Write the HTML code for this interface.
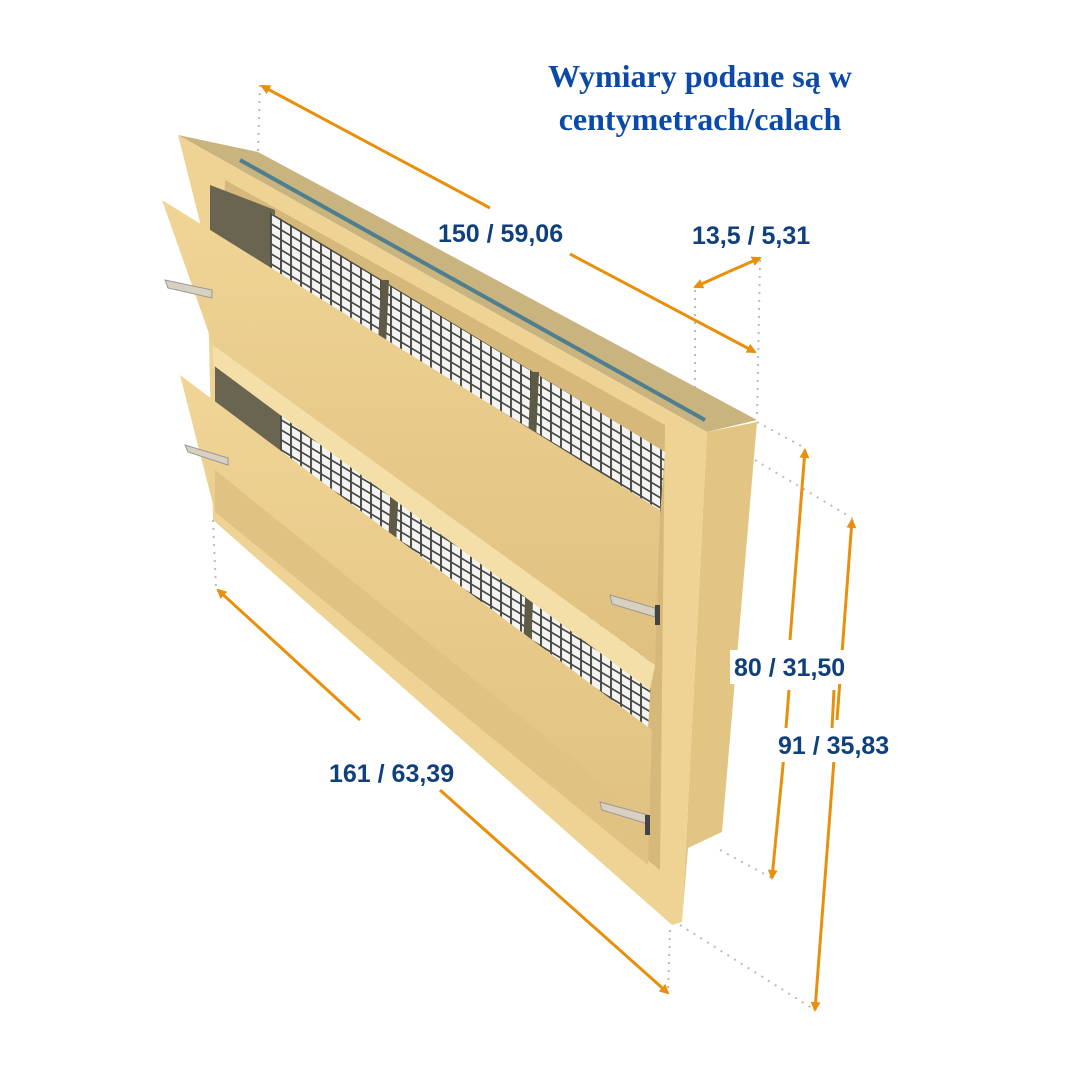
<!DOCTYPE html>
<html><head><meta charset="utf-8"><style>
html,body{margin:0;padding:0;background:#fff;}
svg{display:block;}
.lbl{font-family:"Liberation Sans",sans-serif;font-weight:bold;font-size:25px;fill:#0f3f7c;}
.ttl{font-family:"Liberation Serif",serif;font-weight:bold;font-size:32px;fill:#0b4aa8;}
</style></head><body>
<svg width="1080" height="1080" viewBox="0 0 1080 1080" xmlns="http://www.w3.org/2000/svg">
<defs>
<pattern id="mesh" width="10" height="10" patternUnits="userSpaceOnUse" patternTransform="skewY(31)">
<rect width="10" height="10" fill="#f4f4f4"/>
<rect width="10" height="2" fill="#4a4a44"/>
<rect width="2" height="10" fill="#4a4a44"/>
</pattern>
<linearGradient id="plate" x1="0" y1="0" x2="0" y2="1">
<stop offset="0" stop-color="#f0d596"/><stop offset="1" stop-color="#dfc07f"/>
</linearGradient>
<marker id="ah" markerWidth="10" markerHeight="10" refX="8" refY="5" orient="auto" markerUnits="userSpaceOnUse">
<path d="M0,0 L10,5 L0,10 z" fill="#e8900c"/>
</marker>
</defs>
<g stroke="#bbb" stroke-width="2" stroke-dasharray="2,6" fill="none">
<line x1="260" y1="85" x2="258" y2="152"/>
<line x1="695" y1="290" x2="695" y2="425"/>
<line x1="760" y1="260" x2="757" y2="420"/>
<line x1="757" y1="422" x2="805" y2="448"/>
<line x1="755" y1="460" x2="852" y2="518"/>
<line x1="720" y1="850" x2="772" y2="878"/>
<line x1="680" y1="925" x2="815" y2="1010"/>
<line x1="213" y1="520" x2="216" y2="588"/>
<line x1="670" y1="930" x2="668" y2="993"/>
</g>
<polygon points="178,135 258,152 757,420 707,432" fill="#c9b37f"/>
<line x1="240" y1="160" x2="705" y2="420" stroke="#4f7f8f" stroke-width="4"/>
<polygon points="707,432 757,422 722,832 688,848 682,922" fill="#e2c583"/>
<polygon points="178,135 707,432 682,922 672,925 213,520 207,250" fill="#efd394"/>
<polygon points="225,180 665,425 660,870 215,510" fill="#d6b97a"/>
<polygon points="210,185 275,210 275,300 210,300" fill="#6a6550"/>
<polygon points="215,360 285,400 285,480 215,470" fill="#6a6550"/>
<polygon points="270,212 665,452 660,515 270,280" fill="url(#mesh)"/>
<polygon points="280,405 652,660 648,730 280,470" fill="url(#mesh)"/>
<g stroke="#5d5a45" stroke-width="8">
<line x1="385" y1="280" x2="382" y2="345"/><line x1="535" y1="372" x2="532" y2="440"/>
<line x1="395" y1="483" x2="392" y2="545"/><line x1="530" y1="576" x2="527" y2="650"/>
</g>
<polygon points="162,200 660,510 655,665 213,345" fill="url(#plate)"/>
<polygon points="213,345 655,665 650,690 213,365" fill="#f5dfa8"/>
<polygon points="180,375 652,730 648,865 215,512" fill="url(#plate)"/>
<polygon points="215,470 648,820 648,865 215,512" fill="#e0c282"/>
<g fill="#d8d0c0" stroke="#999" stroke-width="1">
<polygon points="165,280 212,290 212,298 168,288"/>
<polygon points="185,445 228,458 228,465 188,452"/>
<polygon points="610,595 655,608 655,617 612,604"/>
<polygon points="600,802 648,815 648,824 602,810"/>
</g>
<g fill="#444"><rect x="655" y="605" width="5" height="20"/><rect x="645" y="815" width="5" height="20"/></g>
<g stroke="#e8900c" stroke-width="3" fill="none">
<line x1="490" y1="208" x2="262" y2="86" marker-end="url(#ah)"/>
<line x1="570" y1="254" x2="755" y2="352" marker-end="url(#ah)"/>
<line x1="728" y1="272" x2="695" y2="287" marker-end="url(#ah)"/>
<line x1="728" y1="272" x2="760" y2="258" marker-end="url(#ah)"/>
<line x1="790" y1="640" x2="805" y2="450" marker-end="url(#ah)"/>
<line x1="784" y1="755" x2="772" y2="878" marker-end="url(#ah)"/>
<line x1="837" y1="720" x2="852" y2="520" marker-end="url(#ah)"/>
<line x1="834" y1="760" x2="815" y2="1010" marker-end="url(#ah)"/>
<line x1="360" y1="720" x2="218" y2="590" marker-end="url(#ah)"/>
<line x1="440" y1="790" x2="668" y2="993" marker-end="url(#ah)"/>
</g>
<g stroke="#e8900c" stroke-width="3"><line x1="789" y1="690" x2="786" y2="728"/><line x1="834" y1="690" x2="832" y2="728"/></g>
<rect x="730" y="650" width="150" height="34" fill="#fff"/>
<rect x="775" y="728" width="142" height="34" fill="#fff"/>
<text class="lbl" x="438" y="242">150 / 59,06</text>
<text class="lbl" x="692" y="244">13,5 / 5,31</text>
<text class="lbl" x="734" y="676">80 / 31,50</text>
<text class="lbl" x="778" y="754">91 / 35,83</text>
<text class="lbl" x="329" y="782">161 / 63,39</text>
<text class="ttl" x="700" y="87" text-anchor="middle">Wymiary podane są w</text>
<text class="ttl" x="700" y="130" text-anchor="middle">centymetrach/calach</text>
</svg>
</body></html>
